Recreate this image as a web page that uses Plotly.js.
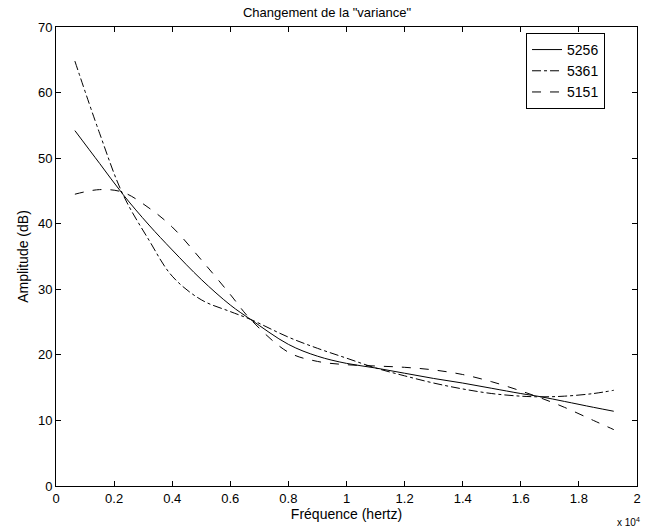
<!DOCTYPE html>
<html>
<head>
<meta charset="utf-8">
<script src="https://cdn.plot.ly/plotly-3.0.1.min.js"></script>
<style>html,body{margin:0;padding:0;background:#fff;}#chart{width:654px;height:529px;}</style>
</head>
<body>
<div id="chart"></div>
<script>
const freq = [0.065, 0.15, 0.23, 0.32, 0.4, 0.5, 0.6, 0.67, 0.8, 0.9, 1.0, 1.1, 1.2, 1.3, 1.4, 1.5, 1.6, 1.67, 1.75, 1.85, 1.92];
const s5256 = [54.2, 49.2, 44.5, 39.8, 36.0, 31.5, 27.6, 25.4, 21.6, 19.8, 18.7, 18.0, 17.2, 16.4, 15.7, 14.9, 14.1, 13.6, 12.9, 12.0, 11.4];
const s5361 = [64.8, 53.8, 44.5, 37.5, 32.0, 28.4, 26.6, 25.4, 22.7, 21.0, 19.5, 18.0, 16.8, 15.7, 14.8, 14.1, 13.7, 13.6, 13.7, 14.1, 14.6];
const s5151 = [44.5, 45.2, 44.8, 42.4, 39.5, 34.5, 29.2, 25.4, 20.4, 19.0, 18.5, 18.3, 18.1, 17.7, 17.0, 15.9, 14.5, 13.4, 12.0, 10.0, 8.6];
const seriesNames = ["5256", "5361", "5151"];
const xTicks = [0, 0.2, 0.4, 0.6, 0.8, 1, 1.2, 1.4, 1.6, 1.8, 2];
const xTickText = ["0", "0.2", "0.4", "0.6", "0.8", "1", "1.2", "1.4", "1.6", "1.8", "2"];
const yTicks = [0, 10, 20, 30, 40, 50, 60, 70];

const font = "Liberation Sans, Arial, Helvetica, sans-serif";
const dashes = ["solid", "dashdot", "dash"];
const data = [s5256, s5361, s5151].map((y, i) => ({
  x: freq, y: y, name: seriesNames[i], type: "scatter", mode: "lines",
  line: {color: "#000", width: 1, dash: dashes[i], shape: "spline", smoothing: 1}
}));

const axisCommon = {
  showgrid: false, zeroline: false, showline: true, mirror: "ticks",
  linecolor: "#000", linewidth: 1, ticks: "inside", ticklen: 5, tickcolor: "#000",
  tickfont: {family: font, size: 13, color: "#000"}
};

const layout = {
  width: 654, height: 529,
  margin: {l: 56, r: 17, t: 27, b: 43},
  paper_bgcolor: "#fff", plot_bgcolor: "#fff",
  font: {family: font, color: "#000"},
  title: {text: 'Changement de la "variance"', font: {family: font, size: 13, color: "#000"}, x: 0.5, xanchor: "center", y: 0.985, yanchor: "top"},
  xaxis: Object.assign({}, axisCommon, {
    range: [0, 2], tickvals: xTicks, ticktext: xTickText,
    title: {text: "Fréquence (hertz)", font: {family: font, size: 14, color: "#000"}, standoff: 0}
  }),
  yaxis: Object.assign({}, axisCommon, {
    range: [0, 70], tickvals: yTicks,
    title: {text: "Amplitude (dB)", font: {family: font, size: 14, color: "#000"}, standoff: 6}
  }),
  showlegend: true,
  legend: {
    x: 0.809, y: 0.987, xanchor: "left", yanchor: "top",
    bgcolor: "#fff", bordercolor: "#000", borderwidth: 1,
    font: {family: font, size: 14, color: "#000"},
    tracegroupgap: 0, itemwidth: 30
  },
  annotations: [{
    text: "x 10<sup>4</sup>", xref: "paper", yref: "paper", x: 0.985, y: -0.06,
    xanchor: "center", yanchor: "top", showarrow: false,
    font: {family: font, size: 10, color: "#000"}
  }]
};

Plotly.newPlot("chart", data, layout, {displayModeBar: false, staticPlot: true});
</script>
</body>
</html>
